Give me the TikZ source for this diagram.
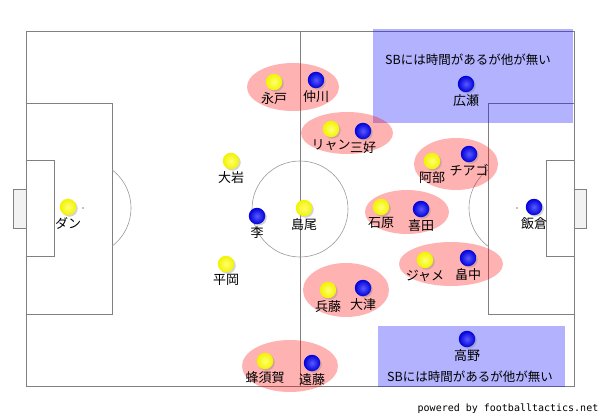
\documentclass[tikz,border=0pt]{standalone}
\usepackage{fontspec}
\setmainfont{Noto Sans CJK JP}
\setmonofont{DejaVu Sans Mono}
\usetikzlibrary{shadows}

\tikzset{
	pitch/.style={draw=gray, line width=0.8pt},
	ball/.style={circle, minimum size=16.5pt, inner sep=0pt,
		drop shadow={shadow xshift=1.5pt, shadow yshift=-1.5pt, opacity=0.35}},
	yel/.style={ball, shading=radial, inner color=yellow!55!white, outer color=yellow!95!black},
	blu/.style={ball, shading=radial, inner color=blue!65!white, outer color=blue!85!black},
	pair/.style={fill=red, fill opacity=0.3},
	zone/.style={fill=blue, fill opacity=0.3},
	note/.style={font=\fontsize{12.5}{14}\selectfont, inner sep=0pt},
	every label/.style={font=\fontsize{13}{14}\selectfont, inner sep=1pt}
}

\begin{document}
\begin{tikzpicture}[x=1pt, y=-1pt, label distance=0.5pt]
	\useasboundingbox (0,0) rectangle (600,417);
	
	%campo
	\draw[pitch] (26,31) rectangle (574,386);
	\draw[pitch] (300,31) -- (300,386);
	\draw[pitch, draw=gray!80, line width=0.6pt] (300,209) circle[radius=48];
	\draw[pitch] (26,103) rectangle (112,314);
	\draw[pitch] (26,160) rectangle (54,256);
	\draw[pitch, fill=gray!10] (13,189) rectangle (26,228);
	\draw[pitch, draw=gray!80, line width=0.6pt] (83,208) ++(-52.8:48) arc[start angle=-52.8, end angle=52.8, radius=48];
	\fill[gray] (83,208) circle (0.8);
	\draw[pitch] (488,103) rectangle (574,314);
	\draw[pitch] (546,160) rectangle (574,256);
	\draw[pitch, fill=gray!10] (574,189) rectangle (586,228);
	\draw[pitch, draw=gray!80, line width=0.6pt] (517,208) ++(127.2:48) arc[start angle=127.2, end angle=232.8, radius=48];
	\fill[gray] (517,208) circle (0.8);
	
	%zone
	\fill[zone] (373,29) rectangle (573,123);
	\fill[zone] (378,326) rectangle (565,387);
	
	%coppie
	\fill[pair] (293,87) ellipse[x radius=46, y radius=24];
	\fill[pair] (347,133) ellipse[x radius=46, y radius=21];
	\fill[pair] (456,164) ellipse[x radius=42, y radius=26];
	\fill[pair] (407,212) ellipse[x radius=42, y radius=22];
	\fill[pair] (451,264) ellipse[x radius=52, y radius=22];
	\fill[pair] (346,290) ellipse[x radius=43, y radius=27];
	\fill[pair] (290,366) ellipse[x radius=48, y radius=26];
	
	%giocatori gialli
	\node[yel, label=below:永戸] (nagato) at (274,82) {};
	\node[yel, label=below:大岩] (oiwa) at (231,161) {};
	\node[yel, label=below:ダン] (dan) at (68,207) {};
	\node[yel, label=below:島尾] (shimao) at (304,208) {};
	\node[yel, label=below:平岡] (hiraoka) at (226,264) {};
	\node[yel, label=below:蜂須賀] (hachisuka) at (265,361) {};
	\node[yel, label=below:リャン] (ryan) at (331,129) {};
	\node[yel, label=below:阿部] (abe) at (432,161) {};
	\node[yel, label=below:石原] (ishihara) at (381,207) {};
	\node[yel, label=below:ジャメ] (jaime) at (425,260) {};
	\node[yel, label=below:兵藤] (hyodo) at (328,290) {};
	
	%giocatori blu
	\node[blu, label=below:仲川] (nakagawa) at (316,80) {};
	\node[blu, label=below:李] (lee) at (257,216) {};
	\node[blu, label=below:遠藤] (endo) at (312,363) {};
	\node[blu, label=below:三好] (miyoshi) at (363,131) {};
	\node[blu, label=below:チアゴ] (thiago) at (469,154) {};
	\node[blu, label=below:広瀬] (hirose) at (466,84) {};
	\node[blu, label=below:喜田] (kida) at (421,209) {};
	\node[blu, label=below:飯倉] (iikura) at (534,207) {};
	\node[blu, label=below:畠中] (hatanaka) at (468,258) {};
	\node[blu, label=below:大津] (otsu) at (363,288) {};
	\node[blu, label=below:高野] (takano) at (467,339) {};
	
	%testi
	\node[note] (topnote) at (468,60) {SBには時間があるが他が無い};
	\node[note] (botnote) at (470,377) {SBには時間があるが他が無い};
	\node[font=\ttfamily\fontsize{10}{12}\selectfont, inner sep=0pt] (credit) at (508,409) {powered by footballtactics.net};
\end{tikzpicture}
\end{document}
